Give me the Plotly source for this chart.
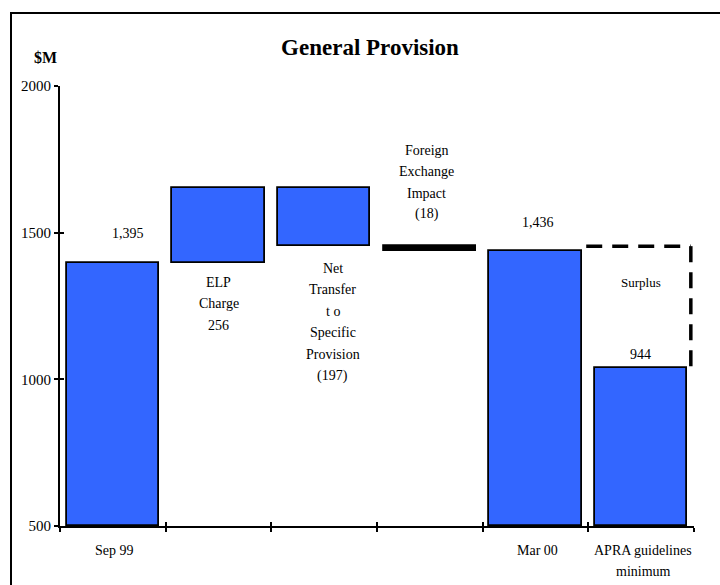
import plotly.graph_objects as go

# ---- data ----
categories = ["Sep 99", "ELP Charge", "Net Transfer to Specific Provision",
              "Foreign Exchange Impact", "Mar 00", "APRA guidelines minimum"]
start_value = 1395          # Sep 99
changes = [256, -197, -18]  # ELP charge, net transfer, FX impact
end_value = 1436            # Mar 00
apra_bar = 1038             # APRA minimum bar as drawn
surplus_top = 1454          # top of dashed "Surplus" box
value_labels = ["1,395", "ELP<br>Charge<br>256",
                "Net<br>Transfer<br>t o<br>Specific<br>Provision<br>(197)",
                "Foreign<br>Exchange<br>Impact<br>(18)", "1,436", "944"]
x_labels = ["Sep 99", "", "", "", "Mar 00", "APRA guidelines<br>minimum"]
y_ticks = [500, 1000, 1500, 2000]
y_min, y_max = 500, 2000

# ---- build waterfall bars ----
bases, heights = [y_min], [start_value - y_min]
running = start_value
for c in changes:
    new = running + c
    bases.append(min(running, new))
    heights.append(abs(c))
    running = new
bases += [y_min, y_min]
heights += [end_value - y_min, apra_bar - y_min]
xs = list(range(len(categories)))
BLUE = "#3366FF"
colors = [BLUE, BLUE, BLUE, "black", BLUE, BLUE]

FONT = "Liberation Serif, Times New Roman, serif"

# plot-area pixel geometry (for placing text)
L, R, T, B = 60, 26, 86, 59
W, H = 720 - L - R, 585 - T - B
def py(p):  # pixel y -> paper y
    return (585 - B - p) / H
def px(p):  # pixel x -> paper x
    return (p - L) / W

fig = go.Figure()
fig.add_trace(go.Bar(
    x=xs, y=heights, base=bases, width=0.875,
    marker=dict(color=colors, line=dict(color="black", width=1.8)),
    hoverinfo="skip", showlegend=False,
))
# dummy trace for overlay tick axes
fig.add_trace(go.Scatter(x=[0], y=[y_min], xaxis="x2", yaxis="y2",
                         mode="markers", marker=dict(opacity=0),
                         hoverinfo="skip", showlegend=False))

# dashed surplus box (top + right side)
fig.add_shape(type="line", xref="x", yref="y", x0=4.48, x1=5.47,
              y0=surplus_top, y1=surplus_top,
              line=dict(color="black", width=3.5, dash="16px,10px"))
fig.add_shape(type="line", xref="x", yref="y", x0=5.47, x1=5.47,
              y0=surplus_top, y1=apra_bar,
              line=dict(color="black", width=3.5, dash="16px,10px"))

# outer frame
fig.add_shape(type="rect", xref="paper", yref="paper",
              x0=px(11), x1=px(760), y0=py(13), y1=py(640),
              line=dict(color="black", width=2))

def line_annots(text, xc, ytop, step=21.5, size=14):
    for i, t in enumerate(text.split("<br>")):
        fig.add_annotation(x=xc, y=py(ytop + i * step), xref="x", yref="paper",
                           text=t, showarrow=False, xanchor="center",
                           yanchor="middle", font=dict(family=FONT, size=size, color="black"))

# value labels
line_annots(value_labels[0], 0.14, 234)
line_annots(value_labels[1], 1.0, 282)
line_annots(value_labels[2], 2.08, 268)
line_annots(value_labels[3], 2.97, 150)
line_annots(value_labels[4], 4.02, 222)
line_annots("Surplus", 5.0, 282, size=13)
line_annots(value_labels[5], 4.99, 354)

# category labels
for i, lab in enumerate(x_labels):
    if lab:
        line_annots(lab, i + 0.02, 550)

# $M label
fig.add_annotation(x=px(32), y=py(47), xref="paper", yref="paper", text="<b>$M</b>",
                   showarrow=False, font=dict(family=FONT, size=16, color="black"))

fig.update_layout(
    width=720, height=585,
    margin=dict(l=L, r=R, t=T, b=B),
    paper_bgcolor="white", plot_bgcolor="white",
    title=dict(text="<b>General Provision</b>", x=px(370), xref="paper",
               y=1 - 47 / 585, yref="container", xanchor="center", yanchor="middle",
               font=dict(family=FONT, size=23, color="black")),
    font=dict(family=FONT, size=14, color="black"),
    bargap=0,
    xaxis=dict(range=[-0.5, 5.5], tickvals=[i - 0.5 for i in range(7)],
               ticktext=[""] * 7, ticks="outside", ticklen=4, tickwidth=2,
               tickcolor="black", showline=True, linecolor="black", linewidth=2,
               showgrid=False, zeroline=False, fixedrange=True),
    yaxis=dict(range=[y_min, y_max], tickvals=y_ticks, ticks="outside", ticklen=4,
               tickwidth=2, tickcolor="black", showline=True, linecolor="black",
               linewidth=2, showgrid=False, zeroline=False,
               tickfont=dict(family=FONT, size=15, color="black")),
    xaxis2=dict(range=[-0.5, 5.5], overlaying="x", anchor="y", side="bottom",
                tickvals=[i - 0.5 for i in range(7)], ticktext=[""] * 7,
                ticks="inside", ticklen=4, tickwidth=2, tickcolor="black",
                showline=False, showgrid=False, zeroline=False),
    yaxis2=dict(range=[y_min, y_max], overlaying="y", anchor="x", side="left",
                tickvals=y_ticks, ticks="inside", ticklen=4, tickwidth=2,
                tickcolor="black", showticklabels=False, showline=False,
                showgrid=False, zeroline=False),
)

fig.write_html("out.html")
